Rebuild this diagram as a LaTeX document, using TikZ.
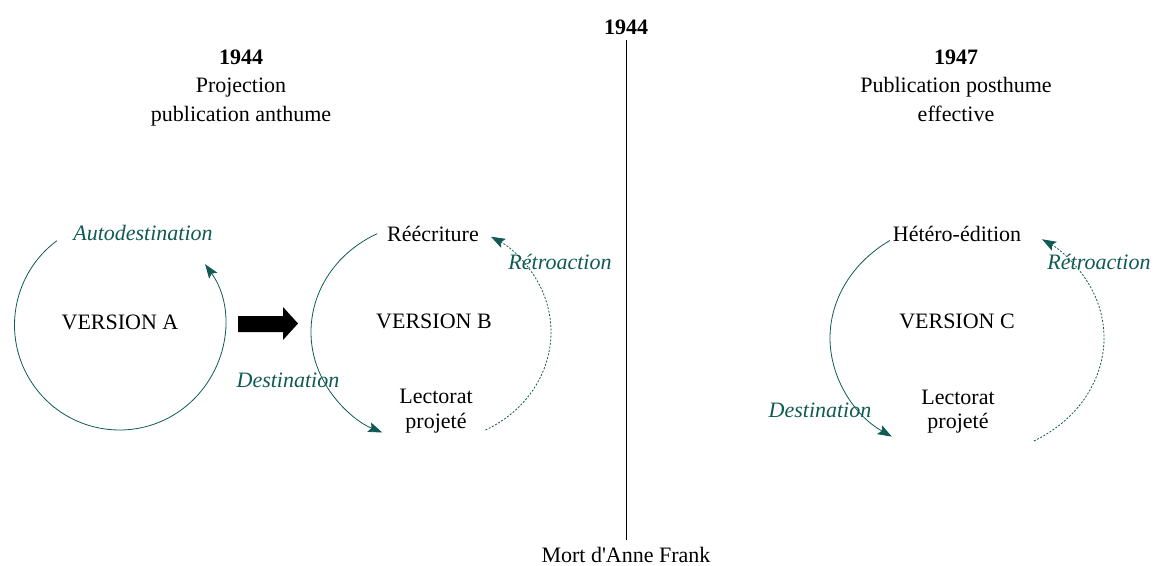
\documentclass[tikz,border=0pt]{standalone}
\usepackage{fontspec}
\setmainfont{Liberation Serif}
\usetikzlibrary{arrows.meta}
\definecolor{destcol}{RGB}{16,90,84}
\def\taille{\fontsize{22}{25}\selectfont}
\tikzset{
  lbl/.style={font=\taille,inner sep=0pt,text height=19pt,text depth=5pt},
  titre/.style={font=\taille\bfseries,inner sep=0pt,text height=19pt,text depth=5pt},
  flux/.style={font=\taille\itshape,text=destcol,inner sep=0pt,text height=19pt,text depth=5pt},
  destarc/.style={destcol,line width=0.8pt,->},
  retroarc/.style={destcol,line width=0.8pt,dash pattern=on 2pt off 1.6pt,->},
}
\begin{document}
\begin{tikzpicture}[>={Stealth[length=14pt,width=10pt,inset=2.5pt]},line join=round,x=1pt,y=1pt]
	\useasboundingbox (0,0) rectangle (1154,-565);
	% axe central
	\node[titre] (date) at (626,-27) {1944};
	\node[lbl] (mort) at (626,-555) {Mort d\textquotesingle Anne Frank};
	\draw[line width=0.8pt] (626,-40) -- (626,-540);
	% en-tetes
	\node[titre] (anA) at (241,-57) {1944};
	\node[lbl] (projA) at (241,-85) {Projection};
	\node[lbl] (pubA) at (241,-114) {publication anthume};
	\node[titre] (anC) at (956,-57) {1947};
	\node[lbl] (projC) at (956,-85) {Publication posthume};
	\node[lbl] (pubC) at (956,-114) {effective};
	% version A
	\node[lbl] (versA) at (120,-322) {VERSION A};
	\node[flux] (auto) at (143,-233) {Autodestination};
	\draw[destarc] (119.5,-325) ++(126.6:105) arc (126.6:395.4:105);
	\fill (238,-316) -- (283,-316) -- (283,-307) -- (298,-323.5) -- (283,-340) -- (283,-332) -- (238,-332) -- cycle;
	% version B
	\node[lbl] (reecr) at (433,-234) {Réécriture};
	\node[lbl] (versB) at (434,-321) {VERSION B};
	\node[lbl] (lectB) at (436,-396) {Lectorat};
	\node[lbl] (projB) at (436,-421) {projeté};
	\node[flux] (retroB) at (560,-262) {Rétroaction};
	\node[flux] (destB) at (288,-380) {Destination};
	\draw[destarc] (431,-332) ++(116.6:120 and 110) arc[start angle=116.6,end angle=246,x radius=120,y radius=110];
	\draw[retroarc] (431,-332) ++(-63:120 and 110) arc[start angle=-63,end angle=60,x radius=120,y radius=110];
	% version C
	\node[lbl] (hetero) at (957,-234) {Hétéro-édition};
	\node[lbl] (versC) at (957,-321) {VERSION C};
	\node[lbl] (lectC) at (958,-397) {Lectorat};
	\node[lbl] (projC2) at (958,-421) {projeté};
	\node[flux] (retroC) at (1099,-262) {Rétroaction};
	\node[flux] (destC) at (820,-410) {Destination};
	\draw[destarc] (967,-338) ++(124.3:137 and 118) arc[start angle=124.3,end angle=236.7,x radius=137,y radius=118];
	\draw[retroarc] (967,-338) ++(-60.8:137 and 118) arc[start angle=-60.8,end angle=56.8,x radius=137,y radius=118];
\end{tikzpicture}
\end{document}
